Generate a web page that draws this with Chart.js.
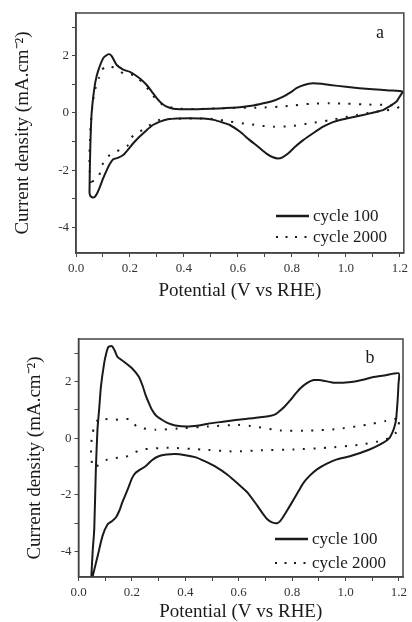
<!DOCTYPE html>
<html>
<head>
<meta charset="utf-8">
<script src="https://cdn.jsdelivr.net/npm/chart.js@4.4.0/dist/chart.umd.min.js"></script>
<style>
  html, body { margin: 0; padding: 0; background: #fff; }
  canvas { position: absolute; left: 0; display: block; }
  #chartA { top: 0; }
  #chartB { top: 300px; }
</style>
</head>
<body>
<canvas id="chartA" width="412" height="305"></canvas>
<canvas id="chartB" width="412" height="322"></canvas>
<script>
// ---- data (potential in V vs RHE, current in mA/cm2) ----

// panel a, cycle 100 (solid loop: anodic sweep then cathodic sweep)
const aCycle100V = [0.050, 0.051, 0.053, 0.055, 0.058, 0.064, 0.072, 0.083, 0.101, 0.113, 0.123, 0.133, 0.151, 0.175, 0.200, 0.219, 0.240, 0.262, 0.280, 0.299, 0.318, 0.336, 0.360, 0.385, 0.430, 0.470, 0.530, 0.607, 0.650, 0.694, 0.735, 0.768, 0.795, 0.817, 0.845, 0.879, 0.910, 0.941, 1.000, 1.050, 1.100, 1.160, 1.210,
  1.200, 1.188, 1.160, 1.138, 1.100, 1.064, 0.990, 0.950, 0.916, 0.880, 0.842, 0.810, 0.786, 0.765, 0.749, 0.730, 0.706, 0.675, 0.644, 0.607, 0.570, 0.546, 0.510, 0.472, 0.420, 0.373, 0.340, 0.311, 0.285, 0.262, 0.236, 0.212, 0.193, 0.175, 0.155, 0.138, 0.124, 0.114, 0.100, 0.089, 0.078, 0.068, 0.060, 0.053, 0.050];
const aCycle100I = [-2.80, -2.10, -1.20, -0.60, 0.00, 0.57, 1.10, 1.50, 1.92, 2.02, 2.06, 1.98, 1.68, 1.52, 1.44, 1.33, 1.18, 0.98, 0.76, 0.52, 0.33, 0.22, 0.15, 0.13, 0.13, 0.14, 0.16, 0.20, 0.25, 0.34, 0.44, 0.57, 0.72, 0.87, 0.98, 1.04, 1.02, 0.98, 0.92, 0.87, 0.83, 0.79, 0.75,
  0.58, 0.40, 0.22, 0.10, 0.01, -0.07, -0.22, -0.33, -0.48, -0.70, -0.95, -1.20, -1.42, -1.55, -1.59, -1.55, -1.42, -1.18, -0.95, -0.65, -0.42, -0.34, -0.24, -0.19, -0.18, -0.19, -0.22, -0.30, -0.42, -0.60, -0.82, -1.06, -1.28, -1.47, -1.57, -1.62, -1.80, -2.00, -2.30, -2.58, -2.82, -2.95, -2.95, -2.90, -2.80];

// panel a, cycle 2000 (dotted loop)
const aCycle2000V = [0.055, 0.050, 0.050, 0.052, 0.054, 0.058, 0.066, 0.076, 0.086, 0.095, 0.110, 0.128, 0.151, 0.178, 0.212, 0.232, 0.249, 0.270, 0.293, 0.323, 0.373, 0.450, 0.550, 0.681, 0.756, 0.810, 0.867, 0.941, 1.000, 1.064, 1.151, 1.200,
  1.188, 1.150, 1.114, 1.040, 0.990, 0.941, 0.867, 0.793, 0.731, 0.680, 0.644, 0.570, 0.520, 0.472, 0.373, 0.305, 0.268, 0.237, 0.206, 0.194, 0.150, 0.114, 0.095, 0.086, 0.070, 0.058, 0.055];
const aCycle2000I = [-2.45, -1.90, -1.42, -0.90, -0.50, 0.00, 0.60, 1.00, 1.25, 1.50, 1.62, 1.64, 1.52, 1.38, 1.33, 1.20, 1.04, 0.80, 0.52, 0.28, 0.16, 0.14, 0.17, 0.19, 0.22, 0.27, 0.32, 0.34, 0.33, 0.30, 0.28, 0.25,
  0.16, 0.09, 0.05, -0.07, -0.16, -0.25, -0.36, -0.46, -0.48, -0.44, -0.39, -0.30, -0.22, -0.19, -0.20, -0.25, -0.46, -0.65, -0.85, -1.12, -1.35, -1.55, -1.86, -2.18, -2.35, -2.41, -2.45];

// panel b, cycle 100 (solid loop)
const bCycle100V = [0.047, 0.053, 0.059, 0.065, 0.071, 0.078, 0.084, 0.096, 0.104, 0.112, 0.125, 0.135, 0.146, 0.170, 0.201, 0.226, 0.240, 0.251, 0.263, 0.275, 0.290, 0.312, 0.335, 0.362, 0.405, 0.450, 0.485, 0.540, 0.596, 0.658, 0.720, 0.740, 0.751, 0.772, 0.794, 0.812, 0.831, 0.855, 0.880, 0.900, 0.917, 0.954, 0.990, 1.029, 1.065, 1.100, 1.150, 1.199,
  1.198, 1.195, 1.189, 1.183, 1.177, 1.164, 1.140, 1.090, 1.016, 0.967, 0.930, 0.893, 0.865, 0.843, 0.825, 0.806, 0.787, 0.769, 0.755, 0.744, 0.725, 0.707, 0.690, 0.670, 0.633, 0.596, 0.559, 0.510, 0.470, 0.436, 0.400, 0.362, 0.330, 0.300, 0.275, 0.251, 0.214, 0.200, 0.189, 0.164, 0.152, 0.140, 0.125, 0.109, 0.090, 0.072, 0.053, 0.047];
const bCycle100I = [-5.10, -4.00, -3.21, -1.10, 0.30, 1.10, 1.82, 2.64, 3.00, 3.22, 3.25, 3.10, 2.87, 2.70, 2.46, 2.17, 1.85, 1.53, 1.25, 1.00, 0.80, 0.65, 0.53, 0.45, 0.41, 0.45, 0.51, 0.58, 0.65, 0.71, 0.79, 0.86, 0.94, 1.12, 1.35, 1.56, 1.76, 1.94, 2.05, 2.05, 2.03, 1.96, 1.96, 1.99, 2.06, 2.15, 2.22, 2.29,
  1.90, 1.35, 0.65, 0.40, 0.24, 0.00, -0.17, -0.40, -0.64, -0.75, -0.90, -1.10, -1.33, -1.57, -1.85, -2.16, -2.46, -2.74, -2.93, -3.00, -2.97, -2.86, -2.66, -2.39, -1.92, -1.60, -1.30, -0.99, -0.80, -0.67, -0.60, -0.56, -0.58, -0.64, -0.78, -0.99, -1.22, -1.42, -1.69, -2.27, -2.58, -2.80, -2.93, -3.04, -3.45, -4.15, -4.87, -5.10];

// panel b, cycle 2000 (dotted loop)
const bCycle2000V = [0.050, 0.047, 0.047, 0.053, 0.059, 0.070, 0.084, 0.121, 0.158, 0.189, 0.205, 0.220, 0.288, 0.374, 0.485, 0.596, 0.658, 0.757, 0.868, 0.967, 1.078, 1.152, 1.183, 1.200,
  1.195, 1.170, 1.140, 1.053, 0.930, 0.806, 0.683, 0.584, 0.460, 0.337, 0.238, 0.200, 0.177, 0.140, 0.109, 0.071, 0.050];
const bCycle2000I = [-0.87, -0.55, -0.23, 0.18, 0.41, 0.62, 0.71, 0.64, 0.67, 0.67, 0.55, 0.39, 0.30, 0.34, 0.41, 0.47, 0.41, 0.27, 0.27, 0.32, 0.47, 0.61, 0.67, 0.75,
  0.27, 0.05, -0.08, -0.23, -0.34, -0.40, -0.43, -0.47, -0.40, -0.34, -0.40, -0.55, -0.66, -0.70, -0.75, -0.97, -0.87];

const seriesLabels = ['cycle 100', 'cycle 2000'];

// axis range
const xMin = 0, xMax = 1.215, xStep = 0.1;
const yMin = -4.9, yMax = 3.5, yStep = 1;

const serif = '"Liberation Serif", "Times New Roman", serif';
const ink = '#1a1a1a';

function toPoints(v, i) {
  return v.map((x, k) => ({ x: x, y: i[k] }));
}

// draws the closed frame, the panel letter and the little legend inside the plot
const framePlugin = {
  id: 'frame',
  afterDraw(chart, args, opts) {
    const { ctx, chartArea: a } = chart;
    ctx.save();
    ctx.strokeStyle = '#444';
    ctx.lineWidth = 1.5;
    ctx.strokeRect(a.left, a.top, a.right - a.left, a.bottom - a.top);

    ctx.fillStyle = ink;
    ctx.textBaseline = 'middle';
    ctx.textAlign = 'center';
    ctx.font = '18px ' + serif;
    ctx.fillText(opts.letter, opts.letterX, opts.letterY);

    ctx.textAlign = 'left';
    ctx.font = '17px ' + serif;
    chart.data.datasets.forEach((ds, i) => {
      const y = opts.legendY[i];
      ctx.beginPath();
      ctx.strokeStyle = ink;
      ctx.lineWidth = ds.borderDash ? 2 : 2.6;
      ctx.setLineDash(ds.borderDash ? [2, 7.5] : []);
      ctx.moveTo(opts.legendX, y);
      ctx.lineTo(opts.legendX + 33, y);
      ctx.stroke();
      ctx.setLineDash([]);
      ctx.fillText(ds.label, opts.legendX + 37, y + 1);
    });
    ctx.restore();
  }
};

function makeChart(id, solidV, solidI, dotV, dotI, geo) {
  const ctx = document.getElementById(id).getContext('2d');
  return new Chart(ctx, {
    type: 'scatter',
    data: {
      datasets: [{
        label: seriesLabels[0],
        data: toPoints(solidV, solidI),
        showLine: true,
        borderColor: ink,
        borderWidth: 2,
        pointRadius: 0,
        tension: 0.2
      }, {
        label: seriesLabels[1],
        data: toPoints(dotV, dotI),
        showLine: true,
        borderColor: ink,
        borderWidth: 2,
        borderDash: [2, 8.5],
        pointRadius: 0,
        tension: 0.2
      }]
    },
    options: {
      responsive: false,
      animation: false,
      layout: { padding: { top: geo.top, right: geo.right, left: 0, bottom: 0 } },
      plugins: {
        legend: { display: false },
        tooltip: { enabled: false },
        frame: geo.frame
      },
      scales: {
        x: {
          type: 'linear',
          min: xMin,
          max: xMax,
          afterFit(scale) { scale.height = geo.xHeight; },
          border: { color: '#444', width: 1.5 },
          grid: { drawOnChartArea: false, drawTicks: true, tickLength: 4, tickColor: '#444' },
          ticks: {
            stepSize: xStep,
            includeBounds: false,
            padding: 4,
            maxRotation: 0,
            autoSkip: false,
            color: '#333',
            font: { family: serif, size: 13 },
            callback: v => (Math.round(v * 10) % 2 === 0 ? v.toFixed(1) : '')
          },
          title: {
            display: true,
            text: 'Potential (V vs RHE)',
            color: ink,
            font: { family: serif, size: 19, lineHeight: 1 },
            padding: { top: 0, bottom: geo.xTitlePad }
          }
        },
        y: {
          type: 'linear',
          min: yMin,
          max: yMax,
          afterFit(scale) { scale.width = geo.yWidth; },
          border: { color: '#444', width: 1.5 },
          grid: { drawOnChartArea: false, drawTicks: true, tickLength: 4, tickColor: '#444' },
          ticks: {
            stepSize: yStep,
            includeBounds: false,
            padding: 3,
            autoSkip: false,
            color: '#333',
            font: { family: serif, size: 13 },
            callback: v => (Math.round(v) % 2 === 0 ? String(v) : '')
          },
          title: {
            display: true,
            text: 'Current density (mA.cm\u207B\u00B2)',
            color: ink,
            font: { family: serif, size: 19, lineHeight: 1 },
            padding: { top: geo.yTitlePad, bottom: 0 }
          }
        }
      }
    },
    plugins: [framePlugin]
  });
}

makeChart('chartA', aCycle100V, aCycle100I, aCycle2000V, aCycle2000I, {
  top: 13, right: 8, xHeight: 52, yWidth: 76, xTitlePad: 4, yTitlePad: 14,
  frame: { letter: 'a', letterX: 380, letterY: 33, legendX: 276, legendY: [216, 237] }
});

makeChart('chartB', bCycle100V, bCycle100I, bCycle2000V, bCycle2000I, {
  top: 39, right: 9, xHeight: 45, yWidth: 78.5, xTitlePad: 0, yTitlePad: 26,
  frame: { letter: 'b', letterX: 370, letterY: 58, legendX: 275, legendY: [239, 263] }
});
</script>
</body>
</html>
